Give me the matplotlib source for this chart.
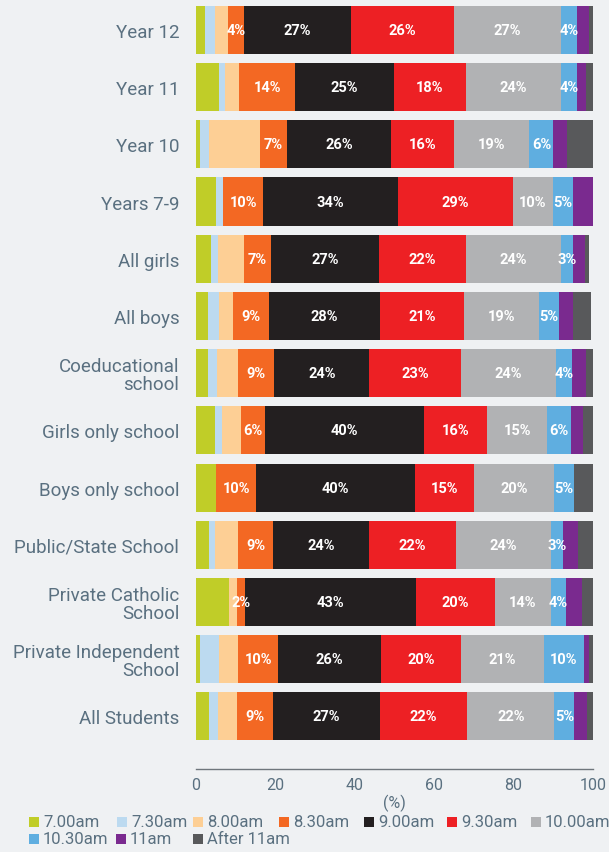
import numpy as np
import matplotlib
matplotlib.use("Agg")
from matplotlib import pyplot as plt
from matplotlib.patches import Rectangle

# Share of students by time slot, one list per slot, rows top to bottom
groups = ["Year 12", "Year 11", "Year 10", "Years 7-9", "All girls", "All boys",
          "Coeducational\nschool", "Girls only school", "Boys only school",
          "Public/State School", "Private Catholic\nSchool",
          "Private Independent\nSchool", "All Students"]

t0700 = [2.3, 5.7, 1.1, 5.1, 3.9, 3.1, 3.1, 4.8, 5.1, 3.4, 8.2, 1.1, 3.4]
t0730 = [2.4, 1.7, 2.3, 1.8, 1.6, 2.6, 2.3, 1.7, 0.0, 1.5, 0.0, 4.8, 2.1]
t0800 = [3.3, 3.5, 12.6, 0.0, 6.5, 3.7, 5.3, 4.9, 0.0, 5.6, 2.1, 4.8, 4.8]
t0830 = [4, 14, 7, 10, 7, 9, 9, 6, 10, 9, 2, 10, 9]
t0900 = [27, 25, 26, 34, 27, 28, 24, 40, 40, 24, 43, 26, 27]
t0930 = [26, 18, 16, 29, 22, 21, 23, 16, 15, 22, 20, 20, 22]
t1000 = [27, 24, 19, 10, 24, 19, 24, 15, 20, 24, 14, 21, 22]
t1030 = [4, 4, 6, 5, 3, 5, 4, 6, 5, 3, 4, 10, 5]
t1100 = [3.0, 2.4, 3.5, 5.1, 2.9, 3.6, 3.5, 3.1, 0.0, 3.7, 3.9, 1.2, 3.3]
t_after = [1.0, 1.7, 6.7, 0.0, 1.1, 4.6, 2.1, 2.5, 4.9, 3.8, 2.8, 1.1, 1.4]

slot_names = ["7.00am", "7.30am", "8.00am", "8.30am", "9.00am", "9.30am",
              "10.00am", "10.30am", "11am", "After 11am"]
slots = [t0700, t0730, t0800, t0830, t0900, t0930, t1000, t1030, t1100, t_after]
colors = ["#c0cd28", "#bcdaf0", "#fdcf95", "#f36823", "#231f20", "#ed2024",
          "#b1b2b4", "#5faee0", "#7a2a8f", "#58595b"]
labelled = {3, 4, 5, 6, 7}  # 8.30am .. 10.30am carry value labels

bg = "#eff1f3"
slate = "#5a7080"
plt.rcParams["font.family"] = ["Roboto", "DejaVu Sans"]

W, H = 609, 853
fig = plt.figure(figsize=(W / 100, H / 100), dpi=100, facecolor=bg)
ax = fig.add_axes([196 / W, 1 - 770 / H, 397 / W, 770 / H])
ax.set_facecolor(bg)

y = np.arange(len(groups))
left = np.zeros(len(groups))
for i, (vals, col) in enumerate(zip(slots, colors)):
    vals = np.array(vals, dtype=float)
    ax.barh(y, vals, left=left, height=0.84, color=col, linewidth=0)
    if i in labelled:
        for yi, (l, v) in enumerate(zip(left, vals)):
            ax.text(l + v / 2, yi, f"{v:.0f}%", ha="center", va="center",
                    color="white", fontsize=10.5, fontweight="bold")
    left += vals

ax.set_xlim(0, 100)
ax.set_ylim(len(groups) - 1 + 0.92, -0.54)
ax.set_yticks(y)
ax.set_yticklabels(groups, fontsize=13.5, color=slate, linespacing=1.0)
ax.tick_params(axis="y", length=0, pad=12)
ax.set_xticks([0, 20, 40, 60, 80, 100])
ax.tick_params(axis="x", length=0, pad=6, labelsize=11.5, labelcolor=slate)
ax.set_xlabel("(%)", fontsize=11.5, color=slate, labelpad=1)
for side in ["top", "right", "left"]:
    ax.spines[side].set_visible(False)
ax.spines["bottom"].set_color("#6f767c")
ax.spines["bottom"].set_linewidth(1.0)

# legend laid out by hand: seven entries on the first row, three on the second
legend_x = [29, 117, 193, 279, 364, 447, 531, 29, 116, 193]
legend_y = [823, 823, 823, 823, 823, 823, 823, 839.5, 839.5, 839.5]
for name, col, lx, ly in zip(slot_names, colors, legend_x, legend_y):
    fig.add_artist(Rectangle((lx / W, 1 - (ly + 5) / H), 10 / W, 10 / H,
                             transform=fig.transFigure, facecolor=col,
                             edgecolor="none"))
    fig.text((lx + 14) / W, 1 - ly / H, name, ha="left", va="center",
             fontsize=12, color=slate)

fig.savefig("out.png", dpi=100, facecolor=bg)
